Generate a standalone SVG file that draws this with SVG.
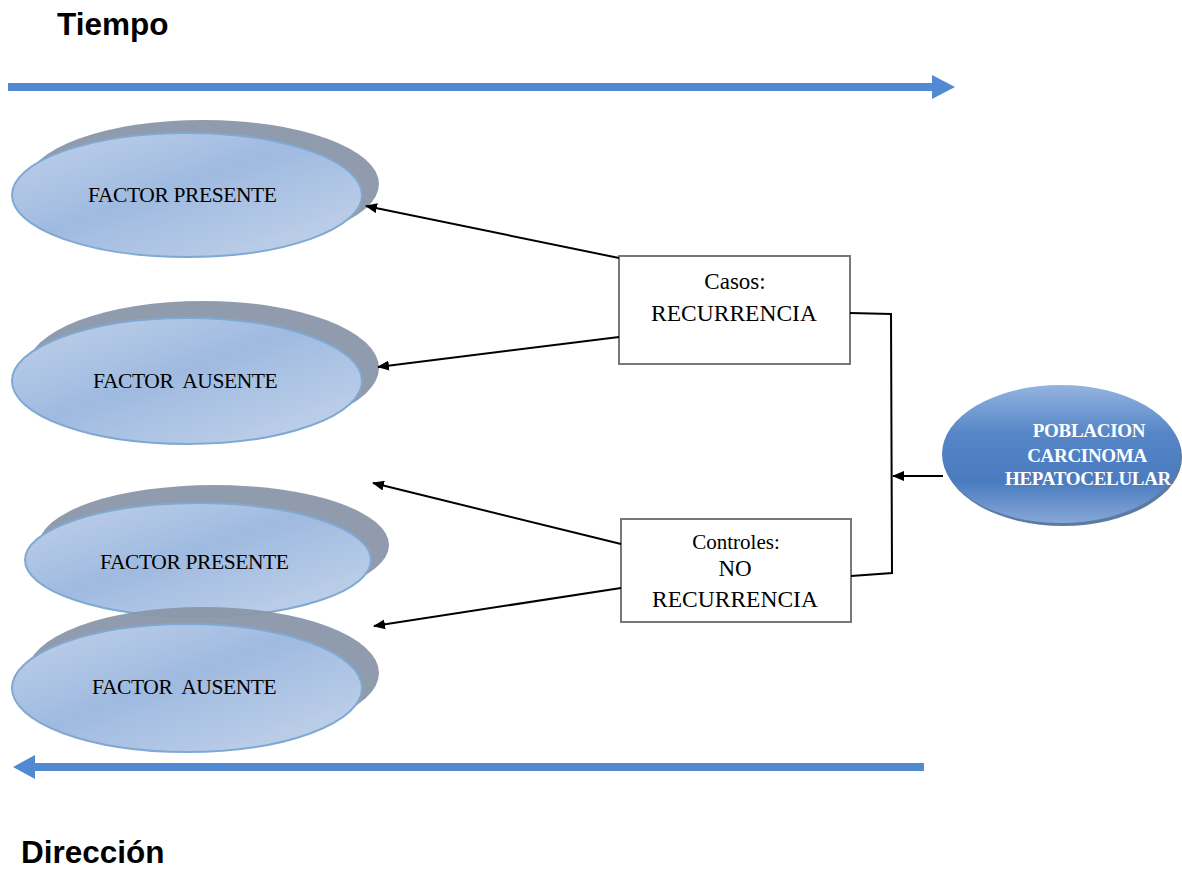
<svg xmlns="http://www.w3.org/2000/svg" width="1182" height="869" viewBox="0 0 1182 869">
<style>
.title{font-family:"Liberation Sans",Arial,sans-serif;font-weight:bold;font-size:31.5px;fill:#000}
.elab{font-family:"Liberation Serif","Times New Roman",serif;font-size:21.5px;fill:#000;letter-spacing:-0.4px}
.blab{font-family:"Liberation Serif","Times New Roman",serif;fill:#000;text-anchor:middle}
.plab{font-family:"Liberation Serif","Times New Roman",serif;font-weight:bold;font-size:19px;fill:#fff;text-anchor:middle;letter-spacing:-0.3px}
.shadow{fill:#8a97a9;opacity:0.95}
.oval{fill:url(#ovalGrad);stroke:#7fa9d2;stroke-width:2}
.box{fill:#fff;stroke:#777;stroke-width:2}
.conn{stroke:#000;stroke-width:2;fill:none}
.tl{stroke:#5189d2;stroke-width:8}
</style>
<defs>
<linearGradient id="ovalGrad" x1="0" y1="0" x2="1" y2="1">
<stop offset="0" stop-color="#c2d2ea"/>
<stop offset="0.45" stop-color="#9fbae0"/>
<stop offset="1" stop-color="#c6d5eb"/>
</linearGradient>
<linearGradient id="popGrad" x1="0" y1="0" x2="0" y2="1">
<stop offset="0" stop-color="#93b4df"/>
<stop offset="0.35" stop-color="#5686c7"/>
<stop offset="0.7" stop-color="#4a7bbf"/>
<stop offset="1" stop-color="#86a8d8"/>
</linearGradient>
<marker id="ah" viewBox="0 0 12 10" refX="11" refY="5" markerWidth="12" markerHeight="10" markerUnits="userSpaceOnUse" orient="auto">
<path d="M0,0 L12,5 L0,10 Z" fill="#000"/>
</marker>
</defs>

<g id="tiempo-label"><text class="title" x="57" y="35">Tiempo</text></g>
<g id="direccion-label"><text class="title" x="21" y="863">Dirección</text></g>

<g id="time-arrow-top">
<line class="tl" x1="8" y1="87" x2="934" y2="87"/>
<polygon points="932,75 955,87 932,99" fill="#5189d2"/>
</g>
<g id="time-arrow-bottom">
<line class="tl" x1="34" y1="767" x2="924" y2="767"/>
<polygon points="35,755 13,767 35,779" fill="#5189d2"/>
</g>

<g id="factor-presente-1">
<ellipse class="shadow" cx="203" cy="184" rx="176" ry="64"/>
<ellipse class="oval" cx="187" cy="195" rx="175" ry="62"/>
<text class="elab" x="88" y="202">FACTOR PRESENTE</text>
</g>
<g id="factor-ausente-1">
<ellipse class="shadow" cx="203" cy="368" rx="176" ry="67"/>
<ellipse class="oval" cx="187" cy="381" rx="175" ry="63"/>
<text class="elab" x="93" y="388" xml:space="preserve">FACTOR  AUSENTE</text>
</g>
<g id="factor-presente-2">
<ellipse class="shadow" cx="214" cy="545" rx="175" ry="60"/>
<ellipse class="oval" cx="198" cy="560" rx="173" ry="57"/>
<text class="elab" x="100" y="569">FACTOR PRESENTE</text>
</g>
<g id="factor-ausente-2">
<ellipse class="shadow" cx="203" cy="673" rx="176" ry="66"/>
<ellipse class="oval" cx="187" cy="688" rx="175" ry="64"/>
<text class="elab" x="92" y="694" xml:space="preserve">FACTOR  AUSENTE</text>
</g>

<g id="casos">
<rect class="box" x="619" y="256" width="231" height="108"/>
<text class="blab" x="735" y="289" font-size="23">Casos:</text>
<text class="blab" x="734" y="321" font-size="23.5">RECURRENCIA</text>
</g>
<g id="controles">
<rect class="box" x="621" y="519" width="230" height="103"/>
<text class="blab" x="736" y="549" font-size="21">Controles:</text>
<text class="blab" x="735" y="576" font-size="23">NO</text>
<text class="blab" x="735" y="607" font-size="23.5">RECURRENCIA</text>
</g>

<g id="poblacion">
<ellipse cx="1063" cy="457" rx="119" ry="69" fill="#35598a" opacity="0.8"/>
<ellipse cx="1061" cy="454" rx="119" ry="69" fill="url(#popGrad)"/>
<text class="plab" x="1089" y="437">POBLACION</text>
<text class="plab" x="1087" y="462">CARCINOMA</text>
<text class="plab" x="1088" y="485" fill="#e6eef9">HEPATOCELULAR</text>
</g>

<g id="connectors">
<line class="conn" x1="619" y1="258" x2="366" y2="206" marker-end="url(#ah)"/>
<line class="conn" x1="619" y1="337" x2="378" y2="367" marker-end="url(#ah)"/>
<line class="conn" x1="621" y1="544" x2="373" y2="483" marker-end="url(#ah)"/>
<line class="conn" x1="621" y1="588" x2="374" y2="626" marker-end="url(#ah)"/>
<polyline class="conn" points="850,313 891,314 892,573 851,576"/>
<line class="conn" x1="943" y1="476" x2="893" y2="476" marker-end="url(#ah)"/>
</g>
</svg>
